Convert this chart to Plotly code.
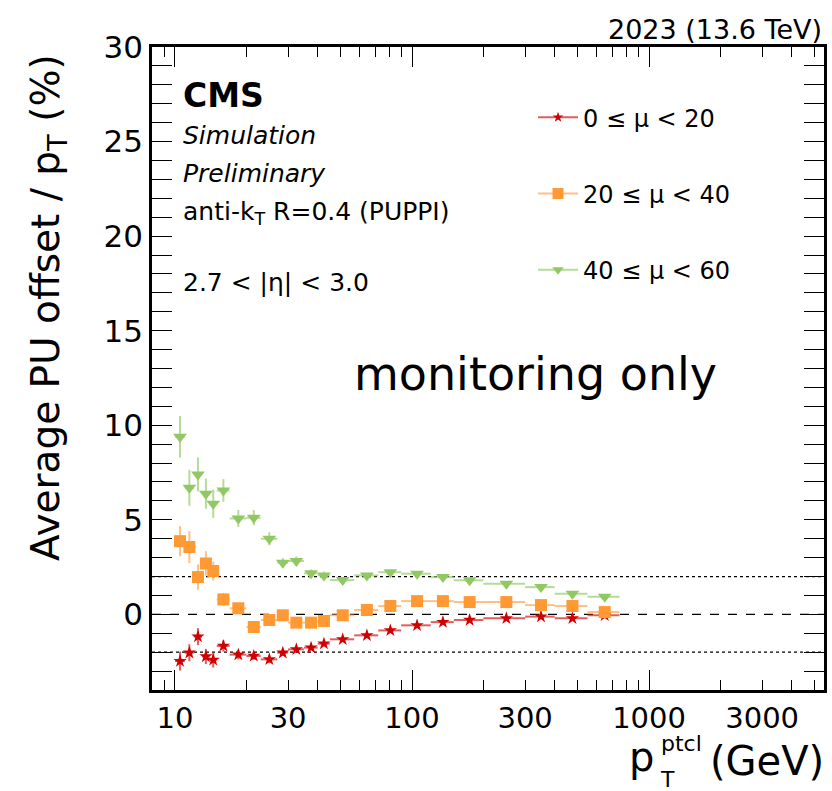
import plotly.graph_objects as go

# ---- data ----
bin_edges = [10, 11, 12, 13, 14, 15, 17, 20, 23, 27, 30, 35, 40, 45, 57, 72, 90,
             120, 150, 200, 300, 400, 550, 750]

mu_0_20 = [-2.47, -2.03, -1.18, -2.23, -2.41, -1.67, -2.13, -2.20, -2.38, -2.03, -1.85,
           -1.76, -1.55, -1.32, -1.11, -0.85, -0.58, -0.41, -0.30, -0.21, -0.12, -0.21, -0.05]
mu_0_20_err = [0.5, 0.45, 0.45, 0.4, 0.4, 0.3, 0.25, 0.2, 0.2, 0.15, 0.15, 0.12, 0.12,
               0.1, 0.1, 0.1, 0.1, 0.1, 0.1, 0.1, 0.1, 0.1, 0.1]

mu_20_40 = [3.87, 3.56, 1.97, 2.69, 2.29, 0.79, 0.32, -0.67, -0.30, -0.05, -0.44, -0.44,
            -0.35, -0.05, 0.23, 0.44, 0.70, 0.70, 0.65, 0.65, 0.49, 0.44, 0.12]
mu_20_40_err = [0.8, 0.85, 0.67, 0.65, 0.5, 0.35, 0.25, 0.2, 0.2, 0.15, 0.15, 0.12, 0.12,
                0.1, 0.1, 0.1, 0.1, 0.1, 0.1, 0.1, 0.1, 0.1, 0.1]

mu_40_60 = [9.39, 6.69, 7.40, 6.38, 5.85, 6.55, 5.07, 5.11, 4.00, 2.73, 2.82, 2.17, 2.06,
            1.81, 2.06, 2.23, 2.15, 1.97, 1.80, 1.62, 1.44, 1.09, 0.93]
mu_40_60_err = [1.1, 0.95, 0.9, 0.8, 0.75, 0.6, 0.45, 0.4, 0.35, 0.25, 0.25, 0.2, 0.2,
                0.15, 0.12, 0.1, 0.1, 0.1, 0.1, 0.1, 0.1, 0.1, 0.1]

series_names = ["0 ≤ μ < 20", "20 ≤ μ < 40", "40 ≤ μ < 60"]
reference_lines = [2, 0, -2]

x_ticks_major = [10, 100, 1000]
x_ticks_labels = [10, 30, 100, 300, 1000, 3000]
x_ticks_minor = [8, 9, 20, 40, 50, 60, 70, 80, 90, 200, 400, 500, 600, 700, 800, 900,
                 2000, 4000, 5000]

# ---- derived ----
centers = [(a + b) / 2 for a, b in zip(bin_edges[:-1], bin_edges[1:])]
err_lo = [c - a for c, a in zip(centers, bin_edges[:-1])]
err_hi = [b - c for c, b in zip(centers, bin_edges[1:])]

FONT = "DejaVu Sans, Liberation Sans, Arial, sans-serif"
styles = [
    dict(color="#d10000", err="rgba(215,40,40,0.75)", symbol="star", size=10, lsize=8),
    dict(color="#ff9933", err="rgba(255,165,80,0.7)", symbol="square", size=12, lsize=11),
    dict(color="#92c864", err="rgba(150,205,105,0.7)", symbol="triangle-down", size=12, lsize=10),
]
values = [mu_0_20, mu_20_40, mu_40_60]
errors = [mu_0_20_err, mu_20_40_err, mu_40_60_err]

fig = go.Figure()

for vals, errs, st, name in zip(values, errors, styles, series_names):
    fig.add_trace(go.Scatter(
        x=centers, y=vals, mode="markers", showlegend=False,
        marker=dict(symbol=st["symbol"], size=st["size"], color=st["color"], line=dict(width=0)),
        error_y=dict(type="data", array=errs, color=st["err"], thickness=2, width=0),
        error_x=dict(type="data", array=err_hi, arrayminus=err_lo, color=st["err"],
                     thickness=2, width=0),
    ))

# legend entries (line + marker, ROOT style)
for i, (st, name) in enumerate(zip(styles, series_names)):
    fig.add_trace(go.Scatter(
        x=[None], y=[None], mode="lines+markers", name=name, legendgroup=f"g{i}",
        marker=dict(symbol=st["symbol"], size=st["lsize"], color=st["color"], line=dict(width=0)),
        line=dict(color=st["err"], width=2),
    ))

# invisible trace for the overlay axis
fig.add_trace(go.Scatter(x=[10, 1000], y=[0, 0], xaxis="x2", mode="markers",
                         marker=dict(opacity=0), showlegend=False, hoverinfo="skip"))

# horizontal reference lines
for yv in reference_lines:
    fig.add_hline(y=yv, line=dict(color="black", width=1.2, dash="dash" if yv == 0 else "dot"),
                  layer="below")

xr = [0.903, 3.738]
fig.update_layout(
    width=832, height=791,
    margin=dict(l=152, r=5, t=47, b=101),
    paper_bgcolor="white", plot_bgcolor="white",
    font=dict(family=FONT, color="black"),
    xaxis=dict(type="log", range=xr, showgrid=False, zeroline=False,
               showline=True, linecolor="black", linewidth=2.5, mirror="allticks",
               ticks="inside", ticklen=10, tickwidth=1.3, tickcolor="black",
               tickvals=x_ticks_labels, ticktext=[str(v) for v in x_ticks_labels],
               tickfont=dict(size=29, family=FONT),
               minor=dict(tickvals=x_ticks_minor, ticks="inside", ticklen=10,
                          tickwidth=1.3, tickcolor="black")),
    xaxis2=dict(type="log", range=xr, overlaying="x", anchor="y", side="bottom",
                showgrid=False, zeroline=False, showline=False, mirror="allticks",
                ticks="inside", ticklen=20, tickwidth=1.3, tickcolor="black",
                tickvals=x_ticks_major, showticklabels=False),
    yaxis=dict(range=[-4, 30], showgrid=False, zeroline=False,
               showline=True, linecolor="black", linewidth=2.5, mirror="allticks",
               ticks="inside", ticklen=20, tickwidth=1.3, tickcolor="black",
               tickvals=[0, 5, 10, 15, 20, 25, 30], tickfont=dict(size=31, family=FONT),
               minor=dict(dtick=1, ticks="inside", ticklen=10, tickwidth=1.3,
                          tickcolor="black")),
    legend=dict(x=0.567, y=0.925, xanchor="left", yanchor="top", bgcolor="rgba(0,0,0,0)",
                font=dict(size=24, family=FONT), tracegroupgap=42,
                traceorder="grouped", itemwidth=40),
)

W, H = 675, 643
def px(xp):
    return (xp - 152) / W
def py(yp):
    return (690 - yp) / H

ann = [
    dict(text="<b>CMS</b>", x=px(181), y=py(95), size=33, xanchor="left"),
    dict(text="<i>Simulation</i>", x=px(181), y=py(135), size=25, xanchor="left"),
    dict(text="<i>Preliminary</i>", x=px(181), y=py(173), size=25, xanchor="left"),
    dict(text="anti-k<sub>T</sub> R=0.4 (PUPPI)", x=px(181), y=py(213), size=25, xanchor="left"),
    dict(text="2.7 < |η| < 3.0", x=px(181), y=py(282), size=25, xanchor="left"),
    dict(text="2023 (13.6 TeV)", x=px(827), y=py(30), size=27, xanchor="right"),
    dict(text="(GeV)", x=px(829), y=py(761), size=40, xanchor="right"),
    dict(text="p", x=px(658), y=py(757), size=40, xanchor="right"),
    dict(text="ptcl", x=px(661), y=py(743), size=22, xanchor="left"),
    dict(text="T", x=px(660), y=py(779), size=22, xanchor="left"),
]
for a in ann:
    fig.add_annotation(text=a["text"], xref="paper", yref="paper", x=a["x"], y=a["y"],
                       xanchor=a["xanchor"], yanchor="middle", showarrow=False,
                       font=dict(size=a["size"], family=FONT, color="black"))

fig.add_annotation(text="monitoring only", xref="paper", yref="paper", x=px(537), y=py(374),
                   xanchor="center", yanchor="middle", showarrow=False,
                   font=dict(size=46, family=FONT, color="black"))

fig.add_annotation(text="Average PU offset / p<sub>T</sub> (%)", xref="paper", yref="paper",
                   x=px(47), y=py(52), xanchor="center", yanchor="top", textangle=-90,
                   showarrow=False, font=dict(size=39, family=FONT, color="black"))

fig.write_html("out.html")
